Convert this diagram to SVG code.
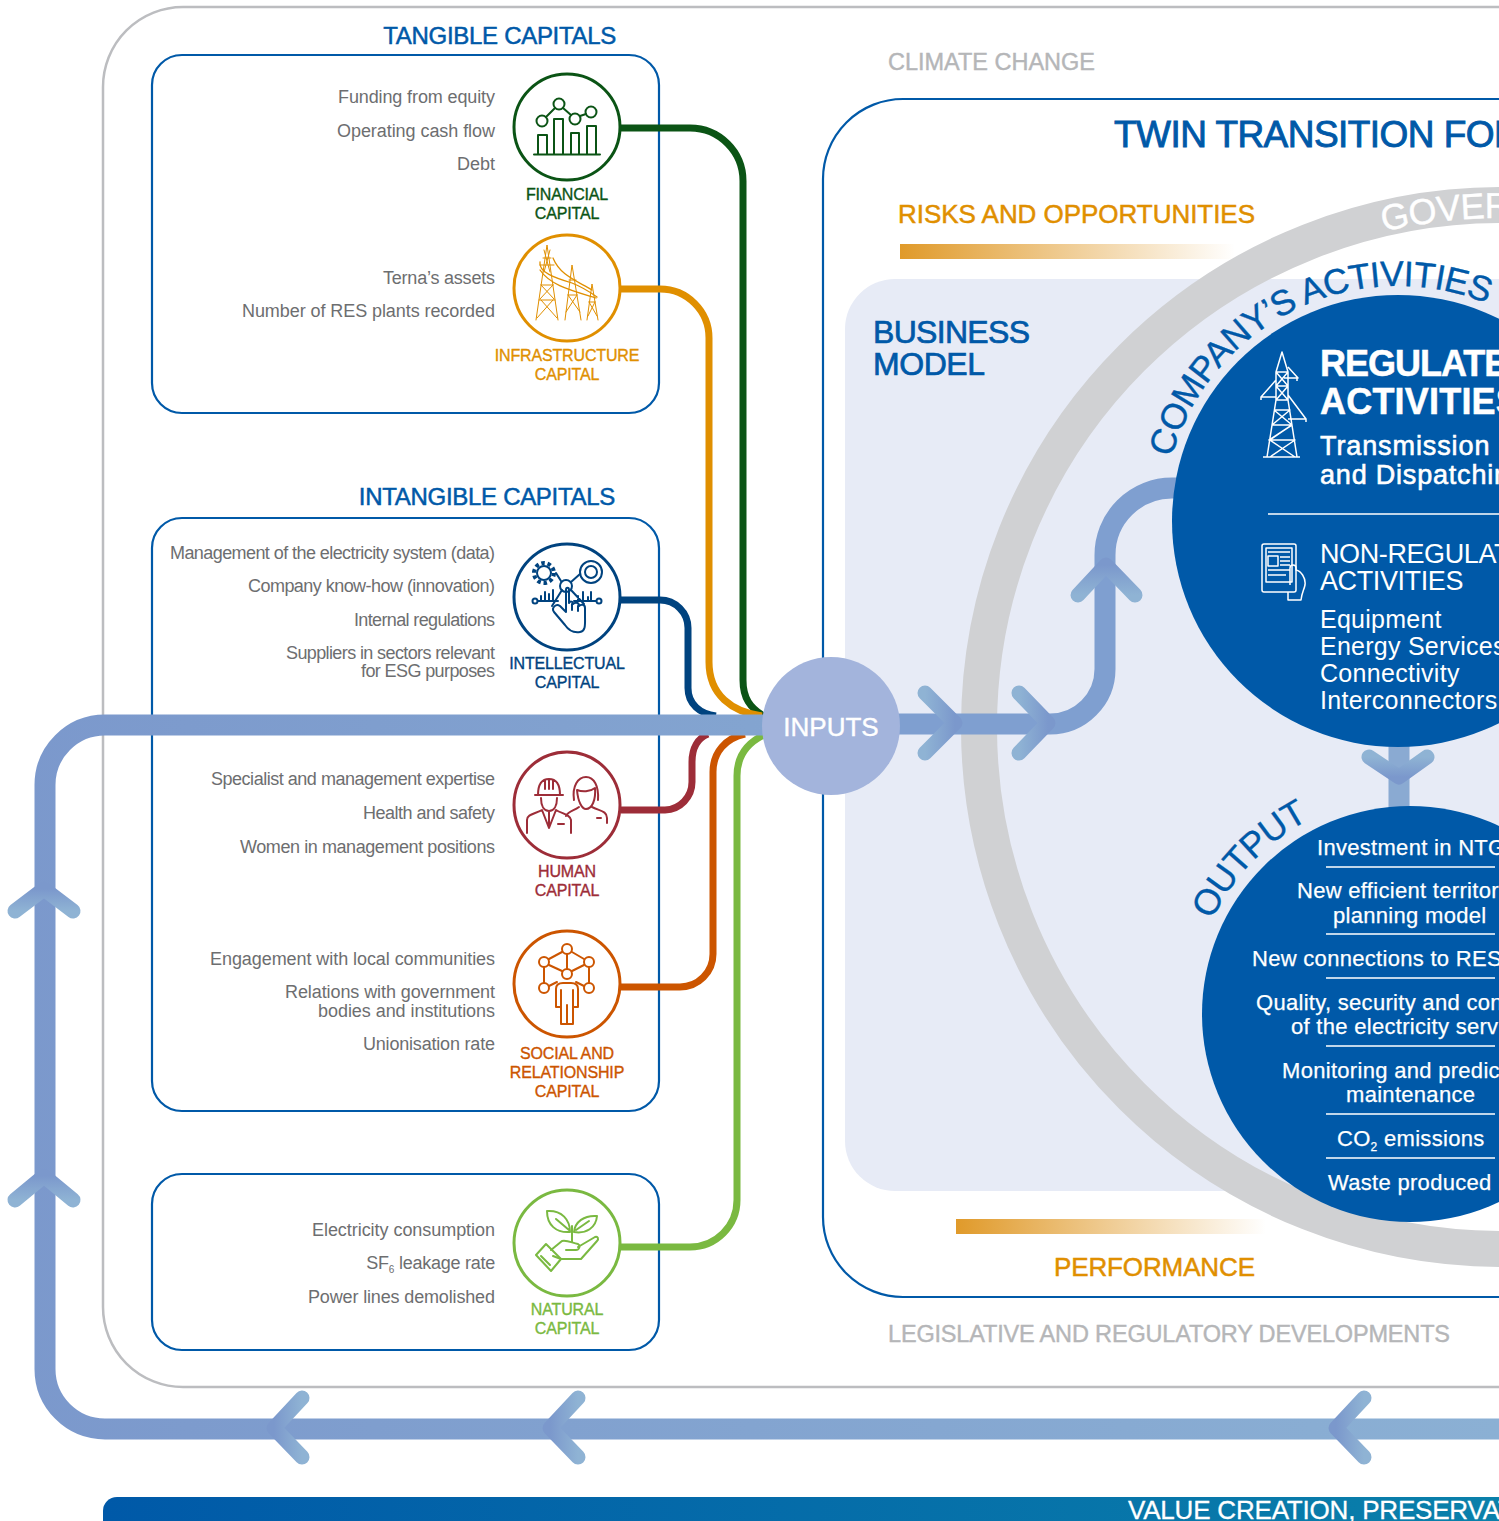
<svg xmlns="http://www.w3.org/2000/svg" width="1499" height="1521" viewBox="0 0 1499 1521">
<style>
text{font-family:"Liberation Sans",Arial,sans-serif}
.g{font-size:18px;fill:#6d6e70;text-anchor:end}
.l{font-size:16px;text-anchor:middle;stroke-width:.35px;letter-spacing:-.15px}
.h{font-size:24px;fill:#0059a8;stroke:#0059a8;stroke-width:.5px;text-anchor:end;letter-spacing:-.3px}
.ext{font-size:23.5px;fill:#b5b6b8;stroke:#b5b6b8;stroke-width:.4px}
.o{font-size:26px;fill:#e08f00;stroke:#e08f00;stroke-width:.5px}
.w{fill:#fff}
.out{font-size:22px;fill:#fff;stroke:#fff;stroke-width:.25px;letter-spacing:.3px}
.ic{fill:#fff;stroke-width:3px}
.i{fill:none;stroke-width:2px;stroke-linejoin:round;stroke-linecap:round}
.t{stroke-width:1px}
.conn{fill:none;stroke-width:7px}
.chev{fill:none;stroke-width:15px;stroke-linecap:round;stroke-linejoin:round}
.sep{stroke:#fff;stroke-width:1.5px;fill:none}
.box{fill:#fff;stroke:#0059a8;stroke-width:2.2px}
</style>
<defs>
<linearGradient id="barGrad" x1="0" x2="1" y1="0" y2="0"><stop offset="0" stop-color="#e09a2a"/><stop offset="1" stop-color="#e09a2a" stop-opacity="0"/></linearGradient>
<linearGradient id="valGrad" gradientUnits="userSpaceOnUse" x1="103" x2="1499" y1="0" y2="0"><stop offset="0" stop-color="#0059a8"/><stop offset="1" stop-color="#0a80aa"/></linearGradient>
<linearGradient id="loopGrad" gradientUnits="userSpaceOnUse" x1="0" x2="1499" y1="0" y2="0"><stop offset="0" stop-color="#7b98cc"/><stop offset="1" stop-color="#8bb0d4"/></linearGradient>
<linearGradient id="chevL" x1="0" x2="1" y1="0" y2="0"><stop offset="0" stop-color="#7b98cc"/><stop offset="1" stop-color="#8fb3d4"/></linearGradient>
<linearGradient id="chevR" x1="0" x2="1" y1="0" y2="0"><stop offset="0" stop-color="#8fb3d4"/><stop offset="1" stop-color="#7b98cc"/></linearGradient>
<linearGradient id="chevU" x1="0" x2="0" y1="0" y2="1"><stop offset="0" stop-color="#7b98cc"/><stop offset="1" stop-color="#8fb3d4"/></linearGradient>
<linearGradient id="chevD" x1="0" x2="0" y1="0" y2="1"><stop offset="0" stop-color="#8fb3d4"/><stop offset="1" stop-color="#7b98cc"/></linearGradient>
<path id="pActivities" d="M1163 521A235 235 0 0 1 1633 521"/>
<path id="pOutput" d="M1191 1014A219 219 0 0 1 1629 1014"/>
<path id="pGov" d="M992 727A509 509 0 0 1 2010 727"/>
</defs>

<rect id="frame-outer" x="103" y="7" width="1500" height="1380" rx="80" fill="#fff" stroke="#bcbdc0" stroke-width="2.5"/>

<g id="frame-twin">
<rect x="823" y="99" width="800" height="1198" rx="80" fill="#fff" stroke="#0059a8" stroke-width="2.2"/>
<text x="1114" y="147" font-size="37" fill="#0059a8" stroke="#0059a8" stroke-width=".9" letter-spacing="-.55">TWIN TRANSITION FOR</text>
<text class="ext" x="888" y="70" textLength="207">CLIMATE CHANGE</text>
<text class="ext" x="888" y="1342" textLength="562">LEGISLATIVE AND REGULATORY DEVELOPMENTS</text>
<text class="o" x="898" y="223" textLength="357">RISKS AND OPPORTUNITIES</text>
<rect x="900" y="244" width="335" height="15" fill="url(#barGrad)"/>
<rect x="956" y="1219" width="310" height="15" fill="url(#barGrad)"/>
<text class="o" x="1054" y="1276" textLength="201">PERFORMANCE</text>
</g>

<g id="business-model">
<rect x="845" y="279" width="800" height="912" rx="50" fill="#e7ebf6"/>
<text x="873" y="343" font-size="32" fill="#0059a8" stroke="#0059a8" stroke-width=".7" textLength="157">BUSINESS</text>
<text x="873" y="375" font-size="32" fill="#0059a8" stroke="#0059a8" stroke-width=".7" textLength="112">MODEL</text>
</g>

<g id="governance-ring">
<circle cx="1501" cy="727" r="522" fill="none" stroke="#d0d1d3" stroke-width="36"/>
<text font-size="36" fill="#fff" stroke="#fff" stroke-width=".4" letter-spacing="-.5"><textPath href="#pGov" startOffset="681">GOVERNANCE</textPath></text>
</g>

<rect id="box-tangible" class="box" x="152" y="55" width="507" height="358" rx="30"/>
<rect id="box-intangible" class="box" x="152" y="518" width="507" height="593" rx="30"/>
<rect id="box-natural" class="box" x="152" y="1174" width="507" height="176" rx="30"/>
<text class="h" x="616" y="44">TANGIBLE CAPITALS</text>
<text class="h" x="615" y="505">INTANGIBLE CAPITALS</text>

<g id="connectors">
<path class="conn" stroke="#0b5415" d="M621 128H690A53 53 0 0 1 743 181V680C743 698 750 708 764 716"/>
<path class="conn" stroke="#e08f00" d="M621 289H660A49 49 0 0 1 709 338V662C709 695 732 712 762 716"/>
<path class="conn" stroke="#00437f" d="M621 600H660A28 28 0 0 1 688 628V688C688 704 700 714 716 716"/>
<path class="conn" stroke="#9d2d38" d="M621 810H665A28 28 0 0 0 692 782V762C692 748 698 738 708 734"/>
<path class="conn" stroke="#cc5500" d="M621 987H680A33 33 0 0 0 713 954V772C713 752 726 738 745 734"/>
<path class="conn" stroke="#7ab941" d="M621 1247H690A47 47 0 0 0 737 1200V776C737 756 748 742 766 734"/>
<path id="loop" fill="none" stroke="url(#loopGrad)" stroke-width="21" d="M765 725H105A60 60 0 0 0 45 785V1369A60 60 0 0 0 105 1429H1510"/>
<path fill="none" stroke="#7f9fd0" stroke-width="21" d="M890 724H1050A55 55 0 0 0 1105 669V555A67 67 0 0 1 1172 488H1190"/>
<path fill="none" stroke="#8aaad2" stroke-width="21" d="M1399 740V815"/>
<g class="chev">
<path stroke="url(#chevU)" d="M15 911L44 889L73 911"/>
<path stroke="url(#chevU)" d="M15 1200L44 1176L73 1200"/>
<path stroke="url(#chevL)" d="M302 1398L274 1428L302 1457"/>
<path stroke="url(#chevL)" d="M578 1398L550 1428L578 1457"/>
<path stroke="url(#chevL)" d="M1364 1398L1336 1428L1364 1457"/>
<path stroke="url(#chevR)" d="M925 693L955 723L925 753"/>
<path stroke="url(#chevR)" d="M1019 693L1048 723L1019 753"/>
<path stroke="url(#chevU)" d="M1078 595L1106 565L1135 595"/>
<path stroke="url(#chevD)" d="M1369 757L1399 777L1427 757"/>
</g>
</g>

<g id="inputs">
<circle cx="831" cy="726" r="69" fill="#a3b4dc"/>
<text x="831" y="736" font-size="26" fill="#fff" stroke="#fff" stroke-width=".4" text-anchor="middle">INPUTS</text>
</g>

<g id="financial" stroke="#0b5415" fill="#0b5415">
<circle class="ic" cx="567" cy="127" r="53"/>
<g class="i"><path d="M534 154.500H600M538 154V135H547V154M554 154V119H563V154M571 154V133H579V154M587 154V126H596V154M546 117L555 108M563 108L571 115M580 116L586 114"/><circle cx="542" cy="121" r="5.500"/><circle cx="559" cy="104" r="5.500"/><circle cx="575" cy="119" r="5.500"/><circle cx="591" cy="112" r="5.500"/></g>
<text class="l" x="567" y="200">FINANCIAL</text><text class="l" x="567" y="219">CAPITAL</text>
</g>
<g id="financial-text"><text class="g" x="495" y="103" textLength="157">Funding from equity</text><text class="g" x="495" y="137" textLength="158">Operating cash flow</text><text class="g" x="495" y="170" textLength="38">Debt</text></g>

<g id="infrastructure" stroke="#e08f00" fill="#e08f00">
<circle class="ic" cx="567" cy="288" r="53"/>
<g class="i t"><path d="M536 320L547 245L558 320M541 285L553 285M539 300L555 300M537 318L553 300M557 318L541 300M541 285L554 299M553 285L540 299M543 258H551M540 265H554M544 250L550 272M550 250L544 272M565 320L572 265L581 320M568 295H577M566 312L577 295M580 312L568 295M569 280H576M587 320L592 284L598 320M589 302H595M588 316L595 302M597 316L589 302"/><path d="M540 262C538 272 555 278 572 283C582 287 590 292 597 297M553 258C560 275 575 280 592 290M540 270C550 285 570 290 596 298" stroke-width="1.300"/></g>
<text class="l" x="567" y="361">INFRASTRUCTURE</text><text class="l" x="567" y="380">CAPITAL</text>
</g>
<g id="infrastructure-text"><text class="g" x="495" y="284" textLength="112">Terna’s assets</text><text class="g" x="495" y="317" textLength="253">Number of RES plants recorded</text></g>

<g id="intellectual" stroke="#00437f" fill="#00437f">
<circle class="ic" cx="567" cy="597" r="53"/>
<g class="i"><circle cx="544" cy="573" r="7"/><circle cx="544" cy="573" r="10" stroke-dasharray="3.500 2.800" stroke-width="4" stroke-linecap="butt"/><circle cx="591" cy="572" r="11"/><circle cx="591" cy="572" r="6"/><circle cx="566" cy="586" r="6"/><path d="M556 573L561 581M571 582L580 574"/><circle cx="535" cy="601" r="2.500"/><circle cx="599" cy="601" r="2.500"/><path d="M538 601H558M541 601V596M545 601V592M549 601V594M553 601V590M574 601H596M578 601V596M583 601V592M588 601V597M591 601V592M562 590L552 606M571 590L584 604"/><path d="M566 590V612L560 606C556 603 551 608 554 612L565 625C569 631 574 633 580 632C586 631 585 624 585 616V608C585 604 581 604 579 606C579 602 575 602 573 604C573 601 570 601 569 603V590C569 587 566 587 566 590Z" stroke-width="2"/><path d="M572 604V610M578 606V611"/></g>
<text class="l" x="567" y="669">INTELLECTUAL</text><text class="l" x="567" y="688">CAPITAL</text>
</g>
<g id="intellectual-text"><text class="g" x="495" y="559" textLength="325">Management of the electricity system (data)</text><text class="g" x="495" y="592" textLength="247">Company know-how (innovation)</text><text class="g" x="495" y="626" textLength="141">Internal regulations</text><text class="g" x="495" y="659" textLength="209">Suppliers in sectors relevant</text><text class="g" x="495" y="677" textLength="134">for ESG purposes</text></g>

<g id="human" stroke="#9d2d38" fill="#9d2d38">
<circle class="ic" cx="567" cy="805" r="53"/>
<g class="i"><path d="M535 795H563M538 795C538 784 542 779 549 779C556 779 560 784 560 795M545 780V789M549 779V789M553 780V789M541 798C541 806 544 811 549 811C554 811 557 806 557 798M527 833V820C527 814 535 814 542 810L549 828L556 810C562 814 570 814 571 820V833M549 812V828M558 824H564"/><path d="M574 800C572 786 578 777 586 777C594 777 599 786 598 800M577 790C578 802 582 809 586 809C592 809 596 800 595 788C590 792 582 792 577 790ZM566 816C568 811 574 811 579 807M592 807C600 811 607 811 607 818V823M597 818H601"/></g>
<text class="l" x="567" y="877">HUMAN</text><text class="l" x="567" y="896">CAPITAL</text>
</g>
<g id="human-text"><text class="g" x="495" y="785" textLength="284">Specialist and management expertise</text><text class="g" x="495" y="819" textLength="132">Health and safety</text><text class="g" x="495" y="853" textLength="255">Women in management positions</text></g>

<g id="social" stroke="#cc5500" fill="#cc5500">
<circle class="ic" cx="567" cy="984" r="53"/>
<g class="i"><circle cx="567" cy="949" r="5"/><circle cx="544" cy="962" r="5"/><circle cx="589" cy="962" r="5"/><circle cx="567" cy="974" r="5"/><circle cx="544" cy="988" r="5"/><circle cx="589" cy="988" r="5"/><path d="M562 952L549 959M572 952L584 959M567 954V969M544 967V983M589 967V983M549 965L562 971M584 965L572 971M549 986L557 982M584 986L576 982"/><path d="M556 1007V989C556 985 559 983 563 983H571C575 983 578 985 578 989V1007H573V1024H561V1007ZM561 990V1007M573 990V1007M567 1005V1024"/></g>
<text class="l" x="567" y="1059">SOCIAL AND</text><text class="l" x="567" y="1078">RELATIONSHIP</text><text class="l" x="567" y="1097">CAPITAL</text>
</g>
<g id="social-text"><text class="g" x="495" y="965" textLength="285">Engagement with local communities</text><text class="g" x="495" y="998" textLength="210">Relations with government</text><text class="g" x="495" y="1017" textLength="177">bodies and institutions</text><text class="g" x="495" y="1050" textLength="132">Unionisation rate</text></g>

<g id="natural" stroke="#7ab941" fill="#7ab941">
<circle class="ic" cx="567" cy="1243" r="53"/>
<g class="i"><path d="M547 1211C562 1210 570 1220 570 1232C556 1233 547 1225 547 1211ZM597 1216C596 1228 586 1234 574 1232C575 1222 584 1215 597 1216ZM572 1226V1242M556 1219L569 1230M589 1221L576 1230"/><path d="M551 1250L562 1241C568 1240 572 1243 578 1244C581 1246 579 1250 576 1250H566M578 1247L595 1237C598 1236 599 1239 597 1241L581 1259H561L553 1256"/><path d="M536 1255L546 1244L561 1259L551 1271Z"/><path d="M541 1256L550 1265"/></g>
<text class="l" x="567" y="1315">NATURAL</text><text class="l" x="567" y="1334">CAPITAL</text>
</g>
<g id="natural-text"><text class="g" x="495" y="1236" textLength="183">Electricity consumption</text><text class="g" x="495" y="1269" letter-spacing="-.25">SF<tspan font-size="10" dy="4">6</tspan><tspan dy="-4"> leakage rate</tspan></text><text class="g" x="495" y="1303" textLength="187">Power lines demolished</text></g>

<g id="activities">
<circle cx="1398" cy="521" r="226" fill="#0059a8"/>
<text font-size="35.500" fill="#0059a8" stroke="#0059a8" stroke-width=".4" letter-spacing="-.7"><textPath href="#pActivities" startOffset="64">COMPANY’S ACTIVITIES</textPath></text>
<g fill="none" stroke="#fff" stroke-width="1.500" stroke-linejoin="round"><path d="M1263 457H1300M1267 457L1276 400V372L1282 352L1288 372V400L1297 457M1276 372L1288 386L1276 400M1288 372L1276 386L1288 400M1276 372H1288M1276 386H1288M1276 400H1288M1274 410H1290L1272 425H1292L1269 440H1295L1270 457M1274 410L1292 425L1270 440L1295 457M1288 367L1298 378H1284M1297 378V381M1276 380L1261 397H1276M1261 397V400M1288 395L1306 419H1288M1306 419V422"/><rect x="1262" y="544" width="34" height="48" rx="2"/><rect x="1266" y="548" width="26" height="34"/><rect x="1268" y="556" width="10" height="10"/><path d="M1268 552H1290M1280 557H1290M1280 561H1290M1280 565H1290M1268 570H1290M1268 575H1286M1290 585V568C1290 564 1296 564 1296 568V570C1301 571 1306 578 1305 585C1304 590 1302 592 1301 600H1288V592"/></g>
<text x="1320" y="376" font-size="36" font-weight="700" fill="#fff" stroke="#fff" stroke-width=".5" letter-spacing="-1">REGULATED</text>
<text x="1320" y="414" font-size="36" font-weight="700" fill="#fff" stroke="#fff" stroke-width=".5" letter-spacing=".2">ACTIVITIES</text>
<text x="1320" y="455" font-size="27" class="w" stroke="#fff" stroke-width=".6" letter-spacing=".9">Transmission</text>
<text x="1320" y="484" font-size="27" class="w" stroke="#fff" stroke-width=".6" letter-spacing=".8">and Dispatching</text>
<path class="sep" d="M1268 514H1499"/>
<text x="1320" y="563" font-size="27" class="w" letter-spacing="-.4">NON-REGULATED</text>
<text x="1320" y="590" font-size="27" class="w" letter-spacing="-.4">ACTIVITIES</text>
<text x="1320" y="628" font-size="25" class="w" letter-spacing=".25">Equipment</text>
<text x="1320" y="655" font-size="25" class="w" letter-spacing=".25">Energy Services</text>
<text x="1320" y="682" font-size="25" class="w" letter-spacing=".3">Connectivity</text>
<text x="1320" y="709" font-size="25" class="w" letter-spacing=".35">Interconnectors</text>
</g>

<g id="output">
<circle cx="1410" cy="1014" r="208" fill="#0059a8"/>
<text font-size="36" fill="#0059a8" stroke="#0059a8" stroke-width=".3" letter-spacing="-1.200"><textPath href="#pOutput" startOffset="97">OUTPUT</textPath></text>
<text class="out" x="1317" y="855">Investment in NTG</text>
<path class="sep" d="M1326 867H1495M1326 934H1495M1326 978H1495M1326 1046H1495M1326 1114H1495M1326 1158H1495"/>
<text class="out" x="1297" y="898">New efficient territorial</text>
<text class="out" x="1333" y="923">planning model</text>
<text class="out" x="1252" y="966">New connections to RES</text>
<text class="out" x="1256" y="1010">Quality, security and continuity</text>
<text class="out" x="1291" y="1034">of the electricity service</text>
<text class="out" x="1282" y="1078">Monitoring and predictive</text>
<text class="out" x="1346" y="1102">maintenance</text>
<text class="out" x="1337" y="1146">CO<tspan font-size="12" dy="5">2</tspan><tspan dy="-5"> emissions</tspan></text>
<text class="out" x="1328" y="1190">Waste produced</text>
</g>

<g id="value-bar">
<rect x="103" y="1497" width="1500" height="60" rx="14" fill="url(#valGrad)"/>
<text x="1128" y="1519" font-size="26" fill="#fff" stroke="#fff" stroke-width=".3" letter-spacing="-.2">VALUE CREATION, PRESERVATION</text>
</g>
</svg>
